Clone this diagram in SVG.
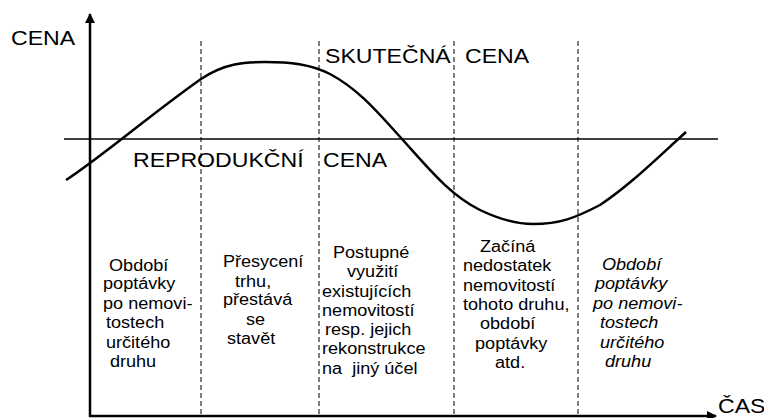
<svg xmlns="http://www.w3.org/2000/svg" width="764" height="418" viewBox="0 0 764 418">
<style>
.t{font-family:"Liberation Sans",Arial,sans-serif;fill:#000}
.h{font-size:21px}
.b{font-size:16px}
.i{font-style:italic}
.dash{stroke:#000;stroke-width:1;stroke-dasharray:5 3;fill:none}
.ax{stroke:#000;stroke-width:2.5;fill:none}
</style>
<defs>
<marker id="ah" viewBox="0 0 10 10" refX="9" refY="5" markerWidth="10" markerHeight="10" markerUnits="userSpaceOnUse" orient="auto">
<path d="M0,0 L10,5 L0,10 Z" fill="#000"/>
</marker>
</defs>
<rect width="764" height="418" fill="#fff"/>
<g id="axes">
<line class="ax" x1="90" y1="417" x2="90" y2="14" marker-end="url(#ah)"/>
<line class="ax" x1="89" y1="416" x2="716" y2="416" marker-end="url(#ah)"/>
</g>
<g id="connectors">
<line x1="64" y1="139" x2="718" y2="139" stroke="#000" stroke-width="1.5"/>
<line class="dash" x1="201" y1="41" x2="201" y2="416"/>
<line class="dash" x1="319" y1="41" x2="319" y2="416"/>
<line class="dash" x1="454" y1="41" x2="454" y2="416"/>
<line class="dash" x1="578" y1="41" x2="578" y2="416"/>
<path class="ax" d="M66,180 C100,158 150,115 201,79 C225,63 245,62 265,62 C290,62 310,64 330,74 C360,90 380,115 402,139 C430,170 450,195 480,210 C505,222 520,224 533,224 C560,224 575,218 600,205 C630,185 655,160 686,132"/>
</g>
<g id="titles" transform="scale(1.1 1)">
<text class="t h" x="10" y="45">CENA</text>
<text class="t h" x="295.5" y="63">SKUTEČNÁ</text>
<text class="t h" x="422.7" y="63">CENA</text>
<text class="t h" x="120.9" y="167">REPRODUKČNÍ</text>
<text class="t h" x="293.6" y="167">CENA</text>
<text class="t h" x="652.7" y="413">ČAS</text>
</g>
<g transform="scale(1.13 1)">
<g id="col1" class="t b">
<text x="96.5" y="271">Období</text>
<text x="91.2" y="289">poptávky</text>
<text x="91.2" y="309">po nemovi-</text>
<text x="93.8" y="328">tostech</text>
<text x="93.8" y="348">určitého</text>
<text x="97.3" y="367">druhu</text>
</g>
<g id="col2" class="t b">
<text x="197.3" y="267">Přesycení</text>
<text x="208" y="287">trhu,</text>
<text x="197.3" y="305">přestává</text>
<text x="217.7" y="325">se</text>
<text x="200.9" y="344">stavět</text>
</g>
<g id="col3" class="t b">
<text x="294.7" y="258">Postupné</text>
<text x="307.1" y="277">využití</text>
<text x="285" y="297">existujících</text>
<text x="285" y="316">nemovitostí</text>
<text x="287.6" y="335">resp. jejich</text>
<text x="285" y="354">rekonstrukce</text>
<text x="285" y="374">na&#160; jiný účel</text>
</g>
<g id="col4" class="t b">
<text x="424.8" y="252">Začíná</text>
<text x="409.7" y="271">nedostatek</text>
<text x="409.7" y="291">nemovitostí</text>
<text x="409.7" y="310">tohoto druhu,</text>
<text x="424.8" y="329">období</text>
<text x="420.4" y="349">poptávky</text>
<text x="438.1" y="368">atd.</text>
</g>
<g id="col5" class="t b i">
<text x="532.7" y="270">Období</text>
<text x="526.5" y="289">poptávky</text>
<text x="524.8" y="309">po nemovi-</text>
<text x="531" y="328">tostech</text>
<text x="531" y="348">určitého</text>
<text x="535.4" y="367">druhu</text>
</g>
</g>
</svg>
